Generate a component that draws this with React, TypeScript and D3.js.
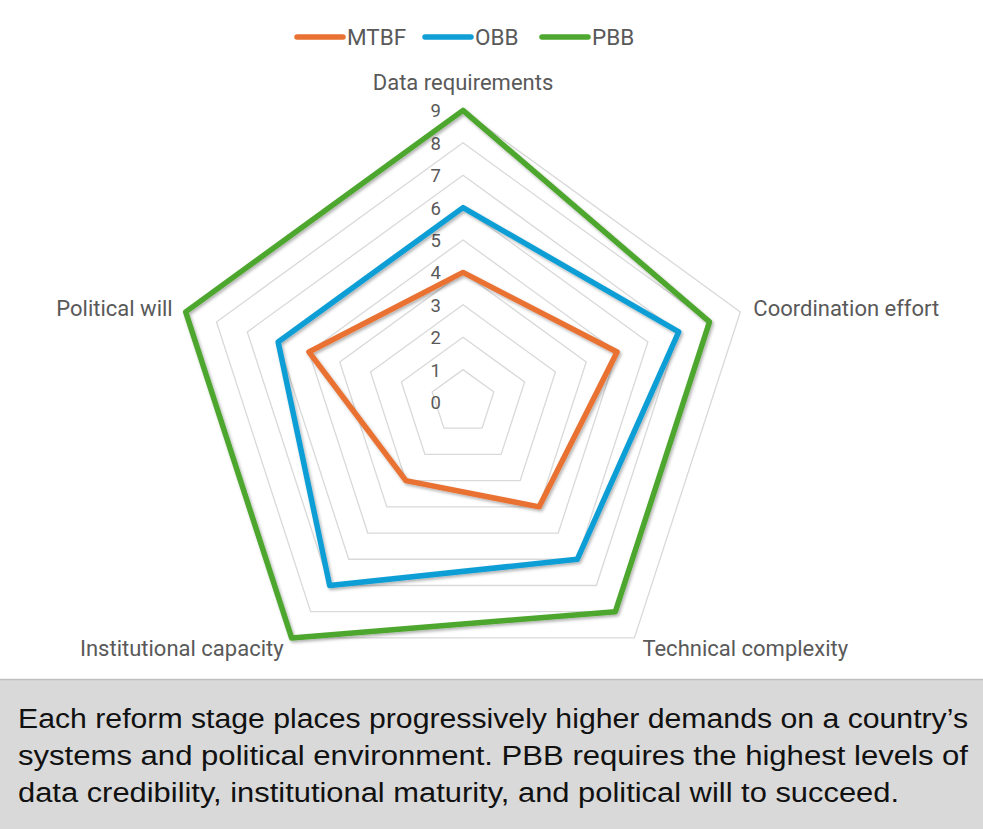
import React, { useEffect, useRef } from 'react';
import * as d3 from 'd3';

// Chart data
const categories = [
  'Data requirements',
  'Coordination effort',
  'Technical complexity',
  'Institutional capacity',
  'Political will',
];
const seriesNames = ['MTBF', 'OBB', 'PBB'];
const mtbfValues = [4, 5, 4, 3, 5];
const obbValues = [6, 7, 6, 7, 6];
const pbbValues = [9, 8, 8, 9, 9];
const tickValues = [0, 1, 2, 3, 4, 5, 6, 7, 8, 9];
const captionLines = [
  'Each reform stage places progressively higher demands on a country\u2019s',
  'systems and political environment. PBB requires the highest levels of',
  'data credibility, institutional maturity, and political will to succeed.',
];

const seriesColors = ['#E97132', '#0F9ED5', '#4EA72E'];

const App: React.FC = () => {
  const svgRef = useRef<SVGSVGElement | null>(null);

  useEffect(() => {
    document.body.style.margin = '0';
    if (!svgRef.current) return;

    const width = 983;
    const height = 829;
    const cx = 463;
    const cy = 402;
    const outerRadius = 291.6;
    const font = 'Roboto, "Open Sans", sans-serif';
    const labelColor = '#595959';

    const svg = d3.select(svgRef.current);
    svg.selectAll('*').remove();

    svg.append('rect').attr('width', width).attr('height', height).attr('fill', '#ffffff');

    // Shadow filter for series lines
    const defs = svg.append('defs');
    defs
      .append('filter')
      .attr('id', 'lineShadow')
      .attr('x', '-10%')
      .attr('y', '-10%')
      .attr('width', '120%')
      .attr('height', '120%')
      .append('feDropShadow')
      .attr('dx', 1.5)
      .attr('dy', 2)
      .attr('stdDeviation', 1.6)
      .attr('flood-color', '#000000')
      .attr('flood-opacity', 0.3);

    const rScale = d3.scaleLinear().domain([0, 9]).range([0, outerRadius]);
    const angle = (i: number) => (i * 2 * Math.PI) / categories.length;

    const g = svg.append('g').attr('transform', `translate(${cx},${cy})`);

    // Grid rings
    const ringLine = d3
      .lineRadial<number>()
      .angle((_, i) => angle(i))
      .radius((d) => rScale(d))
      .curve(d3.curveLinearClosed);

    tickValues
      .filter((t) => t > 0)
      .forEach((t) => {
        g.append('path')
          .attr('d', ringLine(categories.map(() => t)))
          .attr('fill', 'none')
          .attr('stroke', '#d9d9d9')
          .attr('stroke-width', 1.3);
      });

    // Tick labels
    g.selectAll('text.tick')
      .data(tickValues)
      .enter()
      .append('text')
      .attr('class', 'tick')
      .attr('x', -22)
      .attr('y', (d) => -rScale(d) + 7)
      .attr('text-anchor', 'end')
      .attr('font-family', font)
      .attr('font-size', '18.5px')
      .attr('fill', labelColor)
      .text((d) => d);

    // Series
    const allValues = [mtbfValues, obbValues, pbbValues];
    const seriesLine = d3
      .lineRadial<number>()
      .angle((_, i) => angle(i))
      .radius((d) => rScale(d))
      .curve(d3.curveLinearClosed);

    allValues.forEach((vals, si) => {
      g.append('path')
        .attr('d', seriesLine(vals))
        .attr('fill', 'none')
        .attr('stroke', seriesColors[si])
        .attr('stroke-width', 5.5)
        .attr('stroke-linejoin', 'round')
        .attr('filter', 'url(#lineShadow)');
    });

    // Category labels
    const labelPos = [
      { dx: 0, dy: -20, anchor: 'middle' },
      { dx: 13, dy: 4, anchor: 'start' },
      { dx: 8, dy: 18, anchor: 'start' },
      { dx: -8, dy: 18, anchor: 'end' },
      { dx: -13, dy: 4, anchor: 'end' },
    ];
    categories.forEach((c, i) => {
      const a = angle(i);
      const x = Math.sin(a) * outerRadius;
      const y = -Math.cos(a) * outerRadius;
      g.append('text')
        .attr('x', x + labelPos[i].dx)
        .attr('y', y + labelPos[i].dy)
        .attr('text-anchor', labelPos[i].anchor)
        .attr('font-family', font)
        .attr('font-size', '22px')
        .attr('fill', labelColor)
        .text(c);
    });

    // Legend
    const legendX = [297, 425, 542];
    seriesNames.forEach((name, i) => {
      const lg = svg.append('g').attr('transform', `translate(${legendX[i]},37)`);
      lg.append('line')
        .attr('x1', 0)
        .attr('x2', 46)
        .attr('y1', 0)
        .attr('y2', 0)
        .attr('stroke', seriesColors[i])
        .attr('stroke-width', 5.5)
        .attr('stroke-linecap', 'round');
      lg.append('text')
        .attr('x', 50)
        .attr('y', 8)
        .attr('font-family', font)
        .attr('font-size', '22.5px')
        .attr('fill', labelColor)
        .text(name);
    });

    // Caption box
    svg
      .append('rect')
      .attr('x', 0)
      .attr('y', 679)
      .attr('width', width)
      .attr('height', height - 679)
      .attr('fill', '#d9d9d9');
    svg
      .append('line')
      .attr('x1', 0)
      .attr('x2', width)
      .attr('y1', 679.5)
      .attr('y2', 679.5)
      .attr('stroke', '#bfbfbf')
      .attr('stroke-width', 1.5);

    const captionWidths = [950, 950, 881];
    captionLines.forEach((line, i) => {
      svg
        .append('text')
        .attr('x', 18)
        .attr('y', 728 + i * 37)
        .attr('font-family', '"Liberation Sans", Arial, sans-serif')
        .attr('font-size', '27px')
        .attr('fill', '#111111')
        .attr('textLength', captionWidths[i])
        .attr('lengthAdjust', 'spacingAndGlyphs')
        .text(line);
    });
  }, []);

  return <svg ref={svgRef} width={983} height={829} style={{ display: 'block' }} />;
};

export default App;
